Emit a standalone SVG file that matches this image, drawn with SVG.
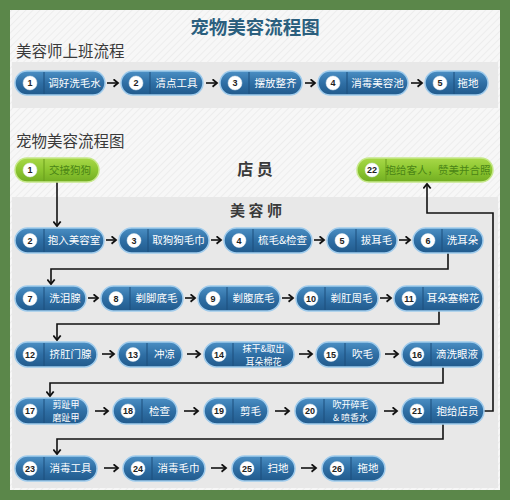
<svg xmlns="http://www.w3.org/2000/svg" width="510" height="500" viewBox="0 0 510 500">
<defs>
<pattern id="stripes" width="5" height="5" patternUnits="userSpaceOnUse" patternTransform="rotate(45)">
<rect width="5" height="5" fill="#f7f7f7"/>
<rect width="1" height="5" fill="#ededed"/>
</pattern>
<linearGradient id="gBlue" x1="0" y1="0" x2="0" y2="1">
<stop offset="0" stop-color="#4b8fc4"/>
<stop offset="0.5" stop-color="#2f6fa5"/>
<stop offset="1" stop-color="#215a8c"/>
</linearGradient>
<linearGradient id="gGreen" x1="0" y1="0" x2="0" y2="1">
<stop offset="0" stop-color="#a8d848"/>
<stop offset="0.5" stop-color="#8cc630"/>
<stop offset="1" stop-color="#72ad22"/>
</linearGradient>
<marker id="ah" markerWidth="8" markerHeight="9" refX="5.5" refY="4.5" orient="auto" markerUnits="userSpaceOnUse">
<path d="M1,0.8 L5.5,4.5 L1,8.2" fill="none" stroke="#111" stroke-width="1.8"/>
</marker>
<style>
.blue{fill:url(#gBlue);stroke:#9fcbec;stroke-width:1.5}
.green{fill:url(#gGreen);stroke:#c6e88a;stroke-width:1.5}
.circ{fill:#ffffff;stroke:#dfe8ef;stroke-width:0.5}
.div{stroke:#1d4f7c;stroke-width:1}
.divg{stroke:#6a9d1c;stroke-width:1}
.num{font-family:"Liberation Sans",Arial,sans-serif;font-size:9px;font-weight:bold;fill:#222;text-anchor:middle}
.lbl{font-family:"Noto Sans CJK SC","Noto Sans",sans-serif;font-size:10.5px;fill:#ffffff;text-anchor:middle}
.lbl2{font-family:"Noto Sans CJK SC","Noto Sans",sans-serif;font-size:9px;fill:#ffffff;text-anchor:middle}
.lblg{font-family:"Noto Sans CJK SC","Noto Sans",sans-serif;font-size:10.5px;fill:#4a8416;text-anchor:middle}
.conn{fill:none;stroke:#111;stroke-width:1.6}
.h{font-family:"Noto Sans CJK SC","Noto Sans",sans-serif;fill:#3a3a3a}
</style>
</defs>
<rect x="0" y="0" width="510" height="500" fill="#5b874a"/>
<rect x="10" y="10" width="490" height="480" fill="url(#stripes)"/>
<rect x="12" y="62" width="486" height="46" fill="#e8e8e8"/>
<rect x="12" y="197" width="486" height="291" fill="#e8e8e8"/>
<text x="255" y="34" text-anchor="middle" font-family="Noto Sans CJK SC,sans-serif" font-size="18.5" font-weight="bold" fill="#2b5f7e">宠物美容流程图</text>
<text x="16" y="57" class="h" font-size="15.5">美容师上班流程</text>
<text x="16" y="147" class="h" font-size="15.5">宠物美容流程图</text>
<text x="255" y="175" class="h" font-size="16" font-weight="bold" text-anchor="middle">店 员</text>
<text x="256" y="216" class="h" font-size="15" font-weight="bold" text-anchor="middle" fill="#2d4f66">美 容 师</text>

<g id="connectors">
<path class="conn" marker-end="url(#ah)" d="M107,83 H118"/>
<path class="conn" marker-end="url(#ah)" d="M206,83 H217"/>
<path class="conn" marker-end="url(#ah)" d="M305,83 H315"/>
<path class="conn" marker-end="url(#ah)" d="M411,83 H422"/>
<path class="conn" marker-end="url(#ah)" d="M57,182 V226"/>
<path class="conn" marker-end="url(#ah)" d="M106,240 H116"/>
<path class="conn" marker-end="url(#ah)" d="M211,240 H221"/>
<path class="conn" marker-end="url(#ah)" d="M314,240 H324"/>
<path class="conn" marker-end="url(#ah)" d="M399,240 H410"/>
<path class="conn" marker-end="url(#ah)" d="M448,253 V269 H51 V284"/>
<path class="conn" marker-end="url(#ah)" d="M88,298 H98"/>
<path class="conn" marker-end="url(#ah)" d="M185,298 H195"/>
<path class="conn" marker-end="url(#ah)" d="M282,298 H293"/>
<path class="conn" marker-end="url(#ah)" d="M380,298 H391"/>
<path class="conn" marker-end="url(#ah)" d="M439,311 V324 H57 V340"/>
<path class="conn" marker-end="url(#ah)" d="M102,354 H114"/>
<path class="conn" marker-end="url(#ah)" d="M187,354 H200"/>
<path class="conn" marker-end="url(#ah)" d="M299,354 H312"/>
<path class="conn" marker-end="url(#ah)" d="M385,354 H398"/>
<path class="conn" marker-end="url(#ah)" d="M443,367 V383 H50 V396"/>
<path class="conn" marker-end="url(#ah)" d="M95,411 H108"/>
<path class="conn" marker-end="url(#ah)" d="M184,411 H198"/>
<path class="conn" marker-end="url(#ah)" d="M275,411 H289"/>
<path class="conn" marker-end="url(#ah)" d="M384,411 H397"/>
<path class="conn" marker-end="url(#ah)" d="M484,411 H493 V213 H427 V184"/>
<path class="conn" marker-end="url(#ah)" d="M443,424 V439 H57 V454"/>
<path class="conn" marker-end="url(#ah)" d="M104,468 H118"/>
<path class="conn" marker-end="url(#ah)" d="M211,468 H226"/>
<path class="conn" marker-end="url(#ah)" d="M301,468 H316"/>
</g>

<!-- Row 1 -->
<g id="w1"><rect class="blue" x="15" y="71" width="90" height="24" rx="12"/><line class="div" x1="44" y1="72" x2="44" y2="94"/><circle class="circ" cx="30" cy="83" r="7"/><text class="num" x="30" y="86.2">1</text><text class="lbl" x="74.5" y="86.8">调好洗毛水</text></g>
<g id="w2"><rect class="blue" x="121" y="71" width="82" height="24" rx="12"/><line class="div" x1="150" y1="72" x2="150" y2="94"/><circle class="circ" cx="136" cy="83" r="7"/><text class="num" x="136" y="86.2">2</text><text class="lbl" x="176.5" y="86.8">清点工具</text></g>
<g id="w3"><rect class="blue" x="220" y="71" width="82" height="24" rx="12"/><line class="div" x1="249" y1="72" x2="249" y2="94"/><circle class="circ" cx="235" cy="83" r="7"/><text class="num" x="235" y="86.2">3</text><text class="lbl" x="275.5" y="86.8">摆放整齐</text></g>
<g id="w4"><rect class="blue" x="318" y="71" width="90" height="24" rx="12"/><line class="div" x1="347" y1="72" x2="347" y2="94"/><circle class="circ" cx="333" cy="83" r="7"/><text class="num" x="333" y="86.2">4</text><text class="lbl" x="377.5" y="86.8">消毒美容池</text></g>
<g id="w5"><rect class="blue" x="425" y="71" width="63" height="24" rx="12"/><line class="div" x1="454" y1="72" x2="454" y2="94"/><circle class="circ" cx="440" cy="83" r="7"/><text class="num" x="440" y="86.2">5</text><text class="lbl" x="468" y="86.8">拖地</text></g>

<!-- Green -->
<g id="s1"><rect class="green" x="15" y="158" width="84" height="24" rx="12"/><line class="divg" x1="44" y1="159" x2="44" y2="181"/><circle class="circ" cx="30" cy="170" r="7"/><text class="num" x="30" y="173.2">1</text><text class="lblg" x="70" y="173.8">交接狗狗</text></g>
<g id="s22"><rect class="green" x="357" y="158" width="136" height="24" rx="12"/><line class="divg" x1="386" y1="159" x2="386" y2="181"/><circle class="circ" cx="372" cy="170" r="7"/><text class="num" x="372" y="173.2">22</text><text class="lblg" x="438" y="173.8">抱给客人，赞美并合照</text></g>

<!-- Row 2 -->
<g id="n2"><rect class="blue" x="15" y="228" width="89" height="25" rx="12.5"/><line class="div" x1="44" y1="229" x2="44" y2="252"/><circle class="circ" cx="30" cy="240.5" r="7"/><text class="num" x="30" y="243.7">2</text><text class="lbl" x="74" y="244.3">抱入美容室</text></g>
<g id="n3"><rect class="blue" x="119" y="228" width="90" height="25" rx="12.5"/><line class="div" x1="148" y1="229" x2="148" y2="252"/><circle class="circ" cx="134" cy="240.5" r="7"/><text class="num" x="134" y="243.7">3</text><text class="lbl" x="178.5" y="244.3">取狗狗毛巾</text></g>
<g id="n4"><rect class="blue" x="224" y="228" width="88" height="25" rx="12.5"/><line class="div" x1="253" y1="229" x2="253" y2="252"/><circle class="circ" cx="239" cy="240.5" r="7"/><text class="num" x="239" y="243.7">4</text><text class="lbl" x="282.5" y="244.3">梳毛&amp;检查</text></g>
<g id="n5"><rect class="blue" x="327" y="228" width="70" height="25" rx="12.5"/><line class="div" x1="356" y1="229" x2="356" y2="252"/><circle class="circ" cx="342" cy="240.5" r="7"/><text class="num" x="342" y="243.7">5</text><text class="lbl" x="376.5" y="244.3">拔耳毛</text></g>
<g id="n6"><rect class="blue" x="413" y="228" width="70" height="25" rx="12.5"/><line class="div" x1="442" y1="229" x2="442" y2="252"/><circle class="circ" cx="428" cy="240.5" r="7"/><text class="num" x="428" y="243.7">6</text><text class="lbl" x="462.5" y="244.3">洗耳朵</text></g>

<!-- Row 3 -->
<g id="n7"><rect class="blue" x="15" y="286" width="71" height="25" rx="12.5"/><line class="div" x1="44" y1="287" x2="44" y2="310"/><circle class="circ" cx="30" cy="298.5" r="7"/><text class="num" x="30" y="301.7">7</text><text class="lbl" x="65" y="302.3">洗泪腺</text></g>
<g id="n8"><rect class="blue" x="101" y="286" width="82" height="25" rx="12.5"/><line class="div" x1="130" y1="287" x2="130" y2="310"/><circle class="circ" cx="116" cy="298.5" r="7"/><text class="num" x="116" y="301.7">8</text><text class="lbl" x="156.5" y="302.3">剃脚底毛</text></g>
<g id="n9"><rect class="blue" x="198" y="286" width="82" height="25" rx="12.5"/><line class="div" x1="227" y1="287" x2="227" y2="310"/><circle class="circ" cx="213" cy="298.5" r="7"/><text class="num" x="213" y="301.7">9</text><text class="lbl" x="253.5" y="302.3">剃腹底毛</text></g>
<g id="n10"><rect class="blue" x="296" y="286" width="82" height="25" rx="12.5"/><line class="div" x1="325" y1="287" x2="325" y2="310"/><circle class="circ" cx="311" cy="298.5" r="7"/><text class="num" x="311" y="301.7">10</text><text class="lbl" x="351.5" y="302.3">剃肛周毛</text></g>
<g id="n11"><rect class="blue" x="394" y="286" width="89" height="25" rx="12.5"/><line class="div" x1="423" y1="287" x2="423" y2="310"/><circle class="circ" cx="409" cy="298.5" r="7"/><text class="num" x="409" y="301.7">11</text><text class="lbl" x="453" y="302.3">耳朵塞棉花</text></g>

<!-- Row 4 -->
<g id="n12"><rect class="blue" x="15" y="342" width="82" height="25" rx="12.5"/><line class="div" x1="44" y1="343" x2="44" y2="366"/><circle class="circ" cx="30" cy="354.5" r="7"/><text class="num" x="30" y="357.7">12</text><text class="lbl" x="70.5" y="358.3">挤肛门腺</text></g>
<g id="n13"><rect class="blue" x="118" y="342" width="64" height="25" rx="12.5"/><line class="div" x1="147" y1="343" x2="147" y2="366"/><circle class="circ" cx="133" cy="354.5" r="7"/><text class="num" x="133" y="357.7">13</text><text class="lbl" x="164.5" y="358.3">冲凉</text></g>
<g id="n14"><rect class="blue" x="204" y="342" width="90" height="25" rx="12.5"/><line class="div" x1="233" y1="343" x2="233" y2="366"/><circle class="circ" cx="219" cy="354.5" r="7"/><text class="num" x="219" y="357.7">14</text><text class="lbl2" x="263.5" y="351.6">抹干&amp;取出</text><text class="lbl2" x="263.5" y="364.6">耳朵棉花</text></g>
<g id="n15"><rect class="blue" x="316" y="342" width="64" height="25" rx="12.5"/><line class="div" x1="345" y1="343" x2="345" y2="366"/><circle class="circ" cx="331" cy="354.5" r="7"/><text class="num" x="331" y="357.7">15</text><text class="lbl" x="362.5" y="358.3">吹毛</text></g>
<g id="n16"><rect class="blue" x="402" y="342" width="81" height="25" rx="12.5"/><line class="div" x1="431" y1="343" x2="431" y2="366"/><circle class="circ" cx="417" cy="354.5" r="7"/><text class="num" x="417" y="357.7">16</text><text class="lbl" x="457" y="358.3">滴洗眼液</text></g>

<!-- Row 5 -->
<g id="n17"><rect class="blue" x="15" y="398" width="73" height="26" rx="13"/><line class="div" x1="44" y1="399" x2="44" y2="423"/><circle class="circ" cx="30" cy="411" r="7"/><text class="num" x="30" y="414.2">17</text><text class="lbl2" x="66" y="408.1">剪趾甲</text><text class="lbl2" x="66" y="421.1">磨趾甲</text></g>
<g id="n18"><rect class="blue" x="113" y="398" width="64" height="26" rx="13"/><line class="div" x1="142" y1="399" x2="142" y2="423"/><circle class="circ" cx="128" cy="411" r="7"/><text class="num" x="128" y="414.2">18</text><text class="lbl" x="159.5" y="414.8">检查</text></g>
<g id="n19"><rect class="blue" x="204" y="398" width="64" height="26" rx="13"/><line class="div" x1="233" y1="399" x2="233" y2="423"/><circle class="circ" cx="219" cy="411" r="7"/><text class="num" x="219" y="414.2">19</text><text class="lbl" x="250.5" y="414.8">剪毛</text></g>
<g id="n20"><rect class="blue" x="295" y="398" width="82" height="26" rx="13"/><line class="div" x1="324" y1="399" x2="324" y2="423"/><circle class="circ" cx="310" cy="411" r="7"/><text class="num" x="310" y="414.2">20</text><text class="lbl2" x="350.5" y="408.1">吹开碎毛</text><text class="lbl2" x="350.5" y="421.1">&amp; 喷香水</text></g>
<g id="n21"><rect class="blue" x="402" y="398" width="82" height="26" rx="13"/><line class="div" x1="431" y1="399" x2="431" y2="423"/><circle class="circ" cx="417" cy="411" r="7"/><text class="num" x="417" y="414.2">21</text><text class="lbl" x="457.5" y="414.8">抱给店员</text></g>

<!-- Row 6 -->
<g id="n23"><rect class="blue" x="15" y="456" width="82" height="25" rx="12.5"/><line class="div" x1="44" y1="457" x2="44" y2="480"/><circle class="circ" cx="30" cy="468.5" r="7"/><text class="num" x="30" y="471.7">23</text><text class="lbl" x="70.5" y="472.3">消毒工具</text></g>
<g id="n24"><rect class="blue" x="123" y="456" width="82" height="25" rx="12.5"/><line class="div" x1="152" y1="457" x2="152" y2="480"/><circle class="circ" cx="138" cy="468.5" r="7"/><text class="num" x="138" y="471.7">24</text><text class="lbl" x="178.5" y="472.3">消毒毛巾</text></g>
<g id="n25"><rect class="blue" x="232" y="456" width="63" height="25" rx="12.5"/><line class="div" x1="261" y1="457" x2="261" y2="480"/><circle class="circ" cx="247" cy="468.5" r="7"/><text class="num" x="247" y="471.7">25</text><text class="lbl" x="278" y="472.3">扫地</text></g>
<g id="n26"><rect class="blue" x="322" y="456" width="63" height="25" rx="12.5"/><line class="div" x1="351" y1="457" x2="351" y2="480"/><circle class="circ" cx="337" cy="468.5" r="7"/><text class="num" x="337" y="471.7">26</text><text class="lbl" x="368" y="472.3">拖地</text></g>
</svg>
